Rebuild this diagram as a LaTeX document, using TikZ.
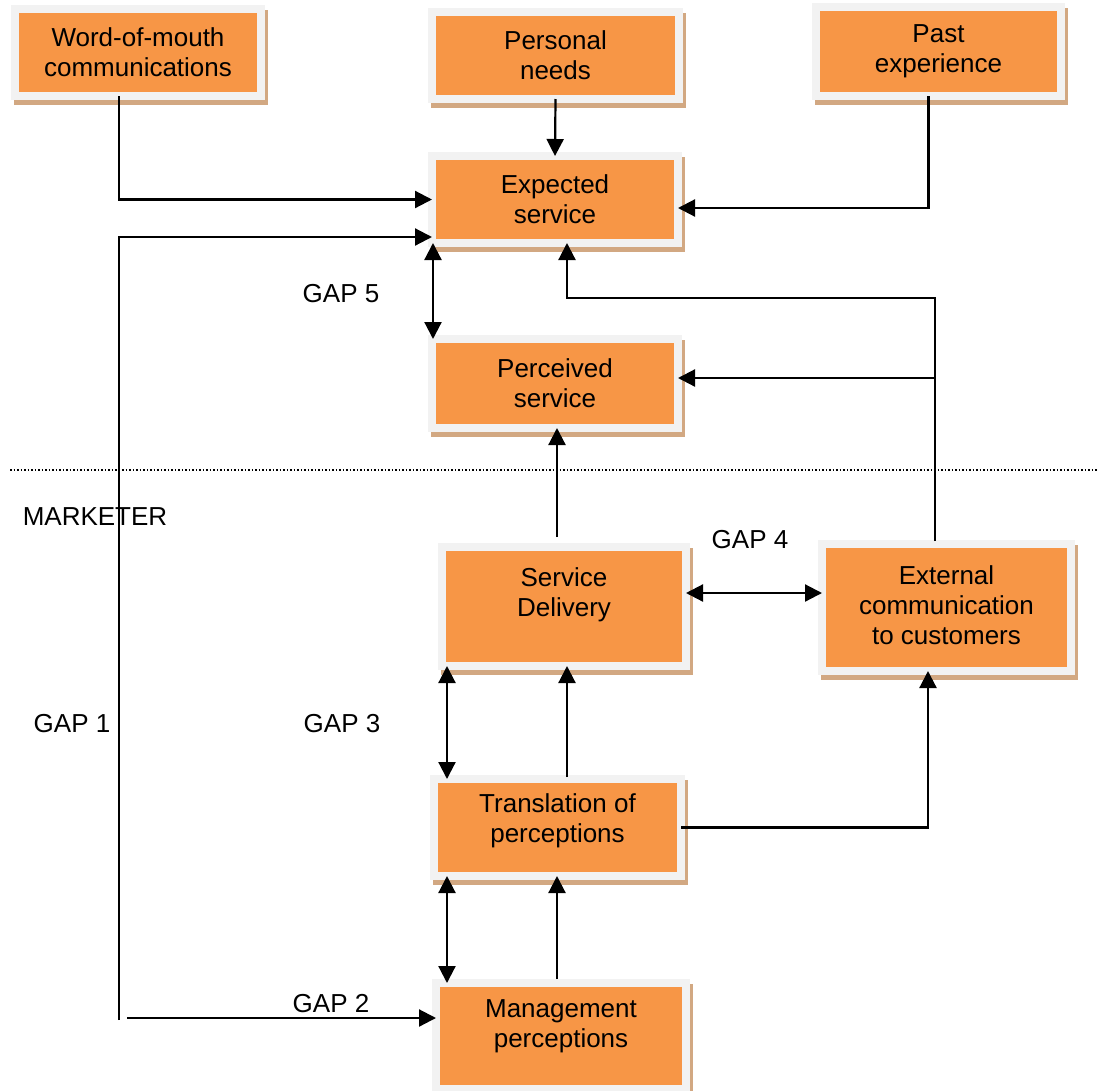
\documentclass[tikz,border=0pt]{standalone}
\usepackage{fontspec}
\setmainfont{Liberation Sans}
\usetikzlibrary{arrows.meta}
\definecolor{boxorange}{HTML}{F79646}
\definecolor{boxframe}{HTML}{F2F2F2}
\definecolor{boxshadow}{HTML}{D2A882}
\begin{document}
\begin{tikzpicture}[x=1pt, y=-1pt,
  txt/.style={font=\fontsize{26}{30}\selectfont, align=center, inner sep=0pt},
  box/.style={rectangle, fill=boxorange, draw=boxframe, line width=8pt,
    inner sep=0pt, outer sep=0pt,
    preaction={draw=boxshadow, fill=boxshadow, line width=8pt,
      transform canvas={xshift=3pt, yshift=-5pt}}},
  arr/.style={line width=2.2pt, -{Triangle[length=17pt, width=17pt]}},
  dbl/.style={line width=2.2pt, {Triangle[length=17pt, width=17pt]}-{Triangle[length=17pt, width=17pt]}}]
\useasboundingbox (0,0) rectangle (1098,1090);

% boxes of the model
\node[box, minimum width=246, minimum height=87,
  label={[txt]center:Word-of-mouth\\communications}] (wom) at (138,52.5) {};
\node[box, minimum width=247, minimum height=87,
  label={[txt]center:Personal\\needs}] (pn) at (555.5,55.5) {};
\node[box, minimum width=245, minimum height=89,
  label={[txt]center:Past\\experience}] (pe) at (938.5,51.5) {};
\node[box, minimum width=246, minimum height=87,
  label={[txt]center:Expected\\service}] (es) at (555,199.5) {};
\node[box, minimum width=246, minimum height=89,
  label={[txt]center:Perceived\\service}] (ps) at (555,383.5) {};
\node[box, minimum width=244, minimum height=119,
  label={[txt, yshift=12pt]center:Service\\Delivery}] (sd) at (564,606.5) {};
\node[box, minimum width=249, minimum height=127,
  label={[txt, yshift=2pt]center:External\\communication\\to customers}] (ec) at (946.5,607.5) {};
\node[box, minimum width=247, minimum height=97,
  label={[txt, yshift=7pt]center:Translation of\\perceptions}] (tp) at (557.5,827.5) {};
\node[box, minimum width=250, minimum height=106,
  label={[txt, yshift=10pt]center:Management\\perceptions}] (mp) at (561,1036) {};

% free text
\node[txt] (mk) at (95,517) {MARKETER};
\node[txt] (g1l) at (72,724) {GAP 1};
\node[txt] (g2l) at (331,1004) {GAP 2};
\node[txt] (g3l) at (342,724) {GAP 3};
\node[txt] (g4l) at (750,540) {GAP 4};
\node[txt] (g5l) at (341,294) {GAP 5};

% boundary between customer and marketer
\coordinate (dl) at (10,470);
\coordinate (dr) at (1098,470);
\draw[line width=1.5pt, dotted] (dl) -- (dr);

% junction points
\coordinate (g1) at (119,1020);
\coordinate (g2) at (127,1018);
\coordinate (j1) at (935,298);
\coordinate (j2) at (567,298);
\coordinate (j3) at (935,378);

% customer side
\draw[arr] ([xshift=-19pt]wom.south) |- (es.west);
\draw[arr] (pn.south) -- (es.north);
\draw[arr] ([xshift=-10pt]pe.south) |- ([yshift=-8.5pt]es.east);
\draw[dbl] ([xshift=-122pt]es.south) -- ([xshift=-122pt]ps.north);

% GAP 1 and GAP 2
\draw[arr] (g1) |- ([yshift=-37.5pt]es.west);
\draw[arr] (g2) -- (g2 -| mp.west);

% external communication feeds both expectations and perceptions
\draw[arr] ([xshift=-11.5pt, yshift=3pt]ec.north) -- (j1) -- (j2) -- (j2 |- es.south);
\draw[arr] (j3) -- (j3 -| ps.east);

% marketer side
\draw[arr] ([xshift=-7pt, yshift=10pt]sd.north) -- ([xshift=-7pt]sd.north |- ps.south);
\draw[dbl] ([yshift=13.5pt]sd.east) -- ([yshift=13.5pt]sd.east -| ec.west);
\draw[dbl] ([xshift=-117pt]sd.south) -- ([xshift=-117pt]sd.south |- tp.north);
\draw[arr] ([xshift=9.5pt, yshift=2pt]tp.north) -- ([xshift=9.5pt]tp.north |- sd.south);
\draw[arr] (tp.east) -| ([xshift=-18.5pt]ec.south);
\draw[dbl] ([xshift=-114pt]mp.north) -- ([xshift=-114pt]mp.north |- tp.south);
\draw[arr] ([xshift=-4pt, yshift=4pt]mp.north) -- ([xshift=-4pt]mp.north |- tp.south);
\end{tikzpicture}
\end{document}
